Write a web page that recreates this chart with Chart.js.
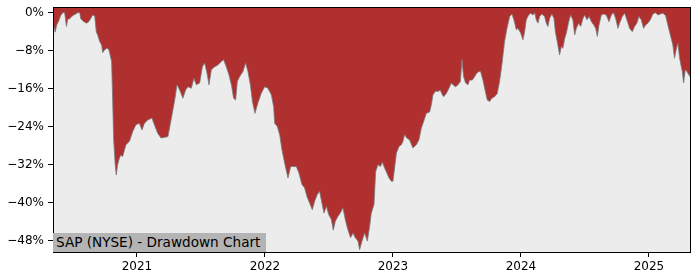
<!DOCTYPE html>
<html lang="en">
<head>
    <meta charset="UTF-8">
    <title>SAP (NYSE) - Drawdown Chart</title>
    <script src="https://cdn.jsdelivr.net/npm/chart.js"></script>
    <style>
        body { margin: 0; background: #fff; }
        #wrap { position: relative; width: 700px; height: 280px; }
        #label {
            position: absolute; left: 53px; top: 233px; height: 19px; width: 213px;
            background: #b4b4b4; color: #000;
            font-family: "DejaVu Sans", sans-serif; font-size: 13.6px; line-height: 19px;
            padding-left: 3px; box-sizing: border-box; white-space: nowrap;
        }
    </style>
</head>
<body>
<div id="wrap">
    <canvas id="ddChart" width="700" height="280"></canvas>
    <div id="label">SAP (NYSE) - Drawdown Chart</div>
</div>
<script>
    // time axis in decimal years
    const dates = [
        2020.344, 2020.361, 2020.373, 2020.389, 2020.404, 2020.420, 2020.435, 2020.449, 2020.459, 2020.474,
        2020.490, 2020.506, 2020.521, 2020.537, 2020.553, 2020.560, 2020.576, 2020.592, 2020.607, 2020.623,
        2020.639, 2020.654, 2020.670, 2020.682, 2020.693, 2020.709, 2020.724, 2020.732, 2020.748, 2020.764,
        2020.779, 2020.787, 2020.802, 2020.810, 2020.818, 2020.830, 2020.838, 2020.849, 2020.863, 2020.873,
        2020.888, 2020.914, 2020.941, 2020.967, 2020.992, 2021.019, 2021.039, 2021.058, 2021.084, 2021.117,
        2021.136, 2021.162, 2021.188, 2021.209, 2021.242, 2021.269, 2021.295, 2021.313, 2021.334, 2021.359,
        2021.380, 2021.398, 2021.425, 2021.445, 2021.464, 2021.490, 2021.511, 2021.529, 2021.547, 2021.563,
        2021.581, 2021.607, 2021.633, 2021.659, 2021.677, 2021.698, 2021.719, 2021.738, 2021.755, 2021.771,
        2021.784, 2021.802, 2021.828, 2021.849, 2021.867, 2021.886, 2021.902, 2021.922, 2021.945, 2021.972,
        2021.998, 2022.023, 2022.050, 2022.068, 2022.076, 2022.097, 2022.115, 2022.133, 2022.154, 2022.180,
        2022.201, 2022.227, 2022.245, 2022.266, 2022.289, 2022.310, 2022.328, 2022.349, 2022.370, 2022.388,
        2022.409, 2022.427, 2022.445, 2022.461, 2022.480, 2022.498, 2022.519, 2022.534, 2022.550, 2022.570,
        2022.591, 2022.609, 2022.628, 2022.648, 2022.669, 2022.688, 2022.706, 2022.727, 2022.740, 2022.758,
        2022.779, 2022.800, 2022.818, 2022.831, 2022.852, 2022.865, 2022.883, 2022.902, 2022.917, 2022.935,
        2022.953, 2022.969, 2022.988, 2023.000, 2023.013, 2023.027, 2023.047, 2023.066, 2023.078, 2023.091,
        2023.109, 2023.130, 2023.156, 2023.183, 2023.203, 2023.222, 2023.240, 2023.261, 2023.287, 2023.300,
        2023.313, 2023.334, 2023.352, 2023.370, 2023.386, 2023.396, 2023.417, 2023.438, 2023.456, 2023.469,
        2023.490, 2023.508, 2023.527, 2023.539, 2023.552, 2023.568, 2023.586, 2023.599, 2023.620, 2023.638,
        2023.656, 2023.672, 2023.685, 2023.703, 2023.722, 2023.737, 2023.755, 2023.773, 2023.794, 2023.815,
        2023.833, 2023.851, 2023.872, 2023.891, 2023.912, 2023.930, 2023.945, 2023.964, 2023.977, 2023.998,
        2024.016, 2024.029, 2024.042, 2024.060, 2024.076, 2024.094, 2024.107, 2024.120, 2024.133, 2024.146,
        2024.164, 2024.185, 2024.198, 2024.211, 2024.224, 2024.242, 2024.258, 2024.269, 2024.284, 2024.302,
        2024.316, 2024.328, 2024.342, 2024.355, 2024.373, 2024.388, 2024.406, 2024.420, 2024.433, 2024.451,
        2024.467, 2024.485, 2024.498, 2024.516, 2024.532, 2024.551, 2024.569, 2024.584, 2024.597, 2024.610,
        2024.628, 2024.646, 2024.667, 2024.688, 2024.706, 2024.724, 2024.740, 2024.758, 2024.771, 2024.792,
        2024.810, 2024.828, 2024.849, 2024.870, 2024.888, 2024.906, 2024.922, 2024.940, 2024.958, 2024.974,
        2024.992, 2025.011, 2025.031, 2025.052, 2025.070, 2025.089, 2025.109, 2025.130, 2025.148, 2025.161,
        2025.174, 2025.187, 2025.200, 2025.213, 2025.226, 2025.240, 2025.253, 2025.261, 2025.271, 2025.284,
        2025.297, 2025.321
    ];

    // drawdown from running peak, percent
    const drawdown = [
        -2.2, -4.1, -2.6, -1.7, -0.6, 0, 0, -2.9, -1.4, -1.3,
        -0.8, -0.5, -0.3, 0, 0, -1.2, -1.7, -2.0, -2.2, -1.9,
        -1.2, -0.5, -0.7, -4.0, -4.7, -6.1, -6.8, -8.4, -7.8, -7.5,
        -7.7, -8.5, -10.3, -18.4, -26.8, -32.0, -34.2, -32.0, -30.6, -30.0,
        -30.3, -27.8, -27.1, -25.0, -23.6, -23.3, -24.7, -23.3, -22.6, -22.2,
        -23.6, -25.4, -26.4, -26.3, -26.1, -22.2, -18.4, -15.2, -16.3, -18.0,
        -16.3, -15.6, -15.9, -13.8, -15.2, -14.8, -11.4, -10.6, -12.7, -15.2,
        -12.0, -11.4, -11.0, -10.3, -9.9, -11.4, -13.1, -15.2, -18.0, -18.4,
        -14.5, -13.5, -12.4, -10.6, -12.4, -15.2, -18.7, -21.2, -19.0, -16.9,
        -15.6, -15.9, -17.3, -19.8, -23.3, -24.0, -25.7, -28.9, -31.7, -34.8,
        -32.4, -32.4, -32.4, -33.8, -36.2, -36.9, -38.7, -40.1, -41.5, -39.7,
        -38.3, -37.6, -40.1, -42.2, -40.8, -42.5, -43.6, -45.8, -43.9, -42.9,
        -42.1, -41.1, -43.6, -45.7, -47.4, -46.4, -47.4, -48.1, -49.9, -48.1,
        -46.4, -48.1, -45.0, -42.2, -40.4, -33.5, -32.0, -32.4, -31.5, -32.7,
        -33.8, -34.8, -35.5, -35.5, -32.7, -29.6, -28.2, -27.8, -27.1, -25.7,
        -26.4, -26.8, -28.5, -27.8, -26.8, -24.3, -22.9, -21.2, -20.9, -19.4,
        -17.3, -16.5, -16.6, -16.3, -17.3, -17.7, -17.0, -15.9, -14.8, -15.2,
        -15.6, -15.2, -14.5, -9.9, -13.5, -14.8, -15.2, -14.2, -14.2, -13.5,
        -12.7, -12.4, -12.4, -14.2, -16.6, -18.4, -18.7, -18.0, -17.7, -17.0,
        -14.5, -11.0, -6.1, -3.3, -0.8, -0.3, -1.5, -3.6, -3.3, -4.3,
        -5.7, -4.0, -1.5, -0.5, -0.1, -0.5, 0, -1.5, -2.2, -0.8,
        -0.3, -0.8, -2.2, -2.9, -1.2, -0.3, -1.2, -4.0, -6.1, -8.9,
        -7.1, -7.5, -5.4, -4.3, -1.9, -0.5, -1.5, -4.7, -3.3, -2.2,
        -2.9, -1.2, -0.5, -1.5, -0.8, -1.9, -2.6, -3.3, -5.0, -2.6,
        -0.5, -0.3, -0.5, -1.9, -0.5, 0, -1.2, -3.3, -2.2, -0.8,
        -0.1, -1.5, -3.3, -4.0, -2.9, -2.2, -0.8, -1.5, -3.3, -2.6,
        -2.2, -1.5, -0.3, 0, -0.5, -0.3, -0.1, -0.6, -2.6, -4.0,
        -5.4, -6.8, -9.6, -7.8, -6.4, -9.6, -11.4, -12.4, -14.8, -12.0,
        -12.4, -13.5
    ];

    const yearTicks = [2021, 2022, 2023, 2024, 2025];
    const pctTicks = [0, -8, -16, -24, -32, -40, -48];

    const points = dates.map((d, i) => ({ x: d, y: drawdown[i] }));

    // grey plot background + black frame on all four sides
    const frame = {
        id: 'frame',
        beforeDraw(chart) {
            const { ctx, chartArea: a } = chart;
            ctx.save();
            ctx.fillStyle = '#ececec';
            ctx.fillRect(a.left, a.top, a.right - a.left, a.bottom - a.top);
            ctx.restore();
        },
        afterDraw(chart) {
            const { ctx, chartArea: a } = chart;
            ctx.save();
            ctx.strokeStyle = '#000';
            ctx.lineWidth = 1;
            ctx.strokeRect(Math.round(a.left) + 0.5, Math.round(a.top) + 0.5,
                Math.round(a.right - a.left), Math.round(a.bottom - a.top));
            ctx.restore();
        }
    };

    const tickFont = { family: 'DejaVu Sans', size: 12 };

    new Chart(document.getElementById('ddChart'), {
        type: 'line',
        data: {
            datasets: [{
                data: points,
                borderColor: '#7a7a7a',
                borderWidth: 0.8,
                backgroundColor: '#b03030',
                fill: 'end',
                pointRadius: 0,
                tension: 0
            }]
        },
        options: {
            responsive: false,
            animation: false,
            layout: { padding: { top: 7, right: 10, left: 0, bottom: 0 } },
            plugins: { legend: { display: false }, tooltip: { enabled: false } },
            scales: {
                x: {
                    type: 'linear',
                    min: 2020.344,
                    max: 2025.321,
                    afterBuildTicks: (s) => { s.ticks = yearTicks.map(v => ({ value: v })); },
                    afterFit: (s) => { s.height = 28; s.paddingLeft = 0; s.paddingRight = 0; },
                    grid: { drawOnChartArea: false, drawTicks: true, tickLength: 5, color: '#000' },
                    border: { display: true, color: '#000' },
                    ticks: { color: '#000', font: tickFont, padding: 3, maxRotation: 0,
                        callback: (v) => String(v) }
                },
                y: {
                    min: -50.4,
                    max: 1.2,
                    afterBuildTicks: (s) => { s.ticks = pctTicks.map(v => ({ value: v })); },
                    afterFit: (s) => { s.width = 53; s.paddingTop = 0; s.paddingBottom = 0; },
                    grid: { drawOnChartArea: false, drawTicks: true, tickLength: 5, color: '#000' },
                    border: { display: true, color: '#000' },
                    ticks: { color: '#000', font: tickFont, padding: 4,
                        callback: (v) => v === 0 ? '0%' : '\u2212' + Math.abs(v) + '%' }
                }
            }
        },
        plugins: [frame]
    });
</script>
</body>
</html>
